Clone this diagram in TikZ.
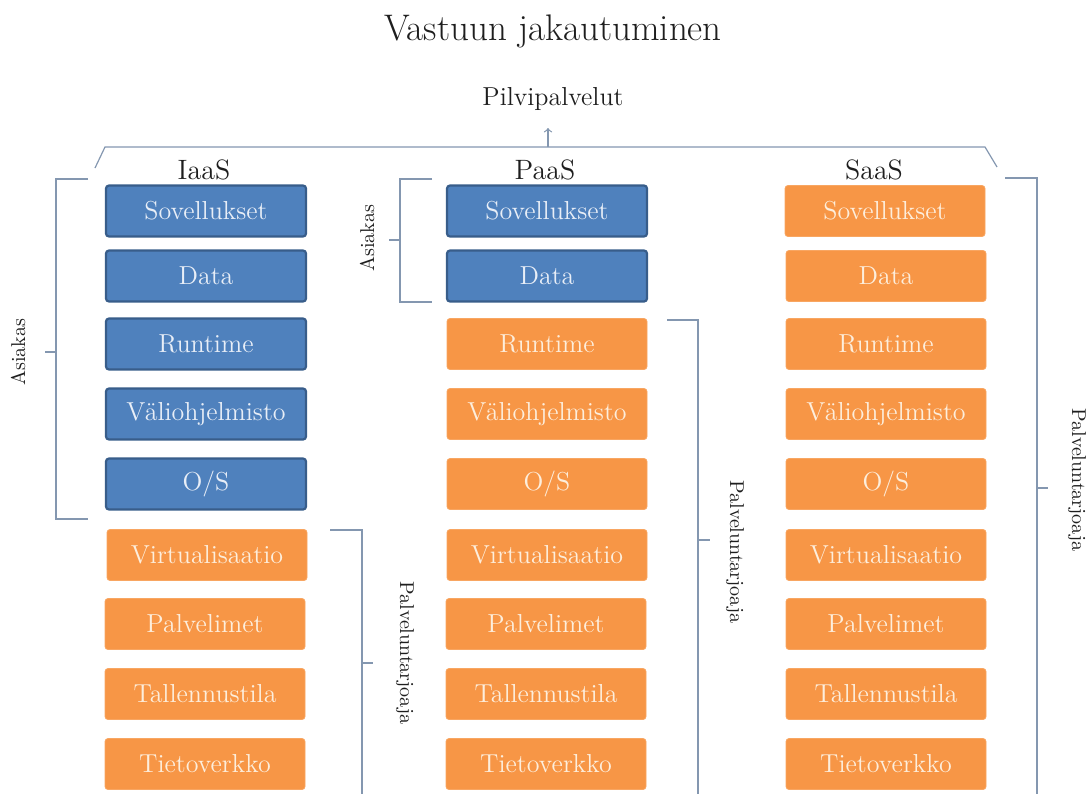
\documentclass[tikz,border=0pt]{standalone}
\usepackage{tikz}
\definecolor{boxblue}{HTML}{4F81BD}
\definecolor{boxblueline}{HTML}{385D8A}
\definecolor{boxorange}{HTML}{F79646}
\definecolor{bracketgray}{HTML}{8497B0}
\definecolor{bluetext}{HTML}{E8EEF7}
\definecolor{orangetext}{HTML}{FDEEDC}
\definecolor{inkgray}{HTML}{1E1E1E}
\tikzstyle{layer}=[rectangle, rounded corners=1.5pt, minimum width=100pt, minimum height=25.5pt, inner sep=0pt, font=\fontsize{13}{15}\selectfont]
\tikzstyle{client}=[layer, fill=boxblue, draw=boxblueline, line width=1.1pt, text=bluetext]
\tikzstyle{vendor}=[layer, fill=boxorange, draw=boxorange!85!white, line width=0.4pt, text=orangetext]
\tikzstyle{bracket}=[draw=bracketgray, line width=0.6pt]
\tikzstyle{side}=[text=inkgray, font=\fontsize{10}{12}\selectfont]
\tikzstyle{head}=[text=inkgray, font=\fontsize{14}{16}\selectfont]

\begin{document}
\begin{tikzpicture}[x=0.5pt, y=-0.5pt]
        \useasboundingbox (0, 0) rectangle (1090, 794);
        \node[text=inkgray, font=\fontsize{18.5}{22}\selectfont] (title) at (553, 31) {Vastuun jakautuminen};
        \node[text=inkgray, font=\fontsize{13}{15}\selectfont] (cloud) at (553, 99) {Pilvipalvelut};
        % top brace
        \coordinate (braceL) at (95, 168);
        \coordinate (braceLtop) at (105, 147);
        \coordinate (braceRtop) at (985, 147);
        \coordinate (braceR) at (997, 167);
        \coordinate (braceM) at (548, 147);
        \coordinate (cloudtip) at (548, 128);
        \draw[bracket] (braceL) -- (braceLtop) -- (braceRtop) -- (braceR);
        \draw[bracket, ->] (braceM) -- (cloudtip);
        \node[head] (iaas) at (204, 170) {IaaS};
        \node[head] (paas) at (545, 170) {PaaS};
        \node[head] (saas) at (874, 170) {SaaS};
        % IaaS
        \node[client] (I1) at (206, 211) {Sovellukset};
        \node[client] (I2) at (206, 276) {Data};
        \node[client] (I3) at (206, 344) {Runtime};
        \node[client] (I4) at (206, 414) {Väliohjelmisto};
        \node[client] (I5) at (206, 484) {O/S};
        \node[vendor] (I6) at (207, 555) {Virtualisaatio};
        \node[vendor] (I7) at (205, 624) {Palvelimet};
        \node[vendor] (I8) at (205, 694) {Tallennustila};
        \node[vendor] (I9) at (205, 764) {Tietoverkko};
        % PaaS
        \node[client] (P1) at (547, 211) {Sovellukset};
        \node[client] (P2) at (547, 276) {Data};
        \node[vendor] (P3) at (547, 344) {Runtime};
        \node[vendor] (P4) at (547, 414) {Väliohjelmisto};
        \node[vendor] (P5) at (547, 484) {O/S};
        \node[vendor] (P6) at (547, 555) {Virtualisaatio};
        \node[vendor] (P7) at (546, 624) {Palvelimet};
        \node[vendor] (P8) at (546, 694) {Tallennustila};
        \node[vendor] (P9) at (546, 764) {Tietoverkko};
        % SaaS
        \node[vendor] (S1) at (885, 211) {Sovellukset};
        \node[vendor] (S2) at (886, 276) {Data};
        \node[vendor] (S3) at (886, 344) {Runtime};
        \node[vendor] (S4) at (886, 414) {Väliohjelmisto};
        \node[vendor] (S5) at (886, 484) {O/S};
        \node[vendor] (S6) at (886, 555) {Virtualisaatio};
        \node[vendor] (S7) at (886, 624) {Palvelimet};
        \node[vendor] (S8) at (886, 694) {Tallennustila};
        \node[vendor] (S9) at (886, 764) {Tietoverkko};
        % IaaS brackets
        \coordinate (IAtop) at (56, 179);
        \coordinate (IAbot) at (56, 519);
        \coordinate (IAmid) at (56, 352);
        \draw[bracket] (88, 179) -- (IAtop) -- (IAbot) -- (88, 519);
        \draw[bracket] (IAmid) -- +(-11, 0);
        \node[side, rotate=90] (iaasclient) at (18, 352) {Asiakas};
        \coordinate (IVtop) at (362, 530);
        \coordinate (IVbot) at (362, 794);
        \coordinate (IVmid) at (362, 663);
        \draw[bracket] (330, 530) -- (IVtop) -- (IVbot);
        \draw[bracket] (IVmid) -- +(11, 0);
        \node[side, rotate=-90] (iaasvendor) at (405, 653) {Palveluntarjoaja};
        % PaaS brackets
        \coordinate (PAtop) at (400, 179);
        \coordinate (PAbot) at (400, 302);
        \coordinate (PAmid) at (400, 240);
        \draw[bracket] (432, 179) -- (PAtop) -- (PAbot) -- (432, 302);
        \draw[bracket] (PAmid) -- +(-11, 0);
        \node[side, rotate=90] (paasclient) at (367, 238) {Asiakas};
        \coordinate (PVtop) at (698, 320);
        \coordinate (PVbot) at (698, 794);
        \coordinate (PVmid) at (698, 540);
        \draw[bracket] (667, 320) -- (PVtop) -- (PVbot);
        \draw[bracket] (PVmid) -- +(12, 0);
        \node[side, rotate=-90] (paasvendor) at (735, 552) {Palveluntarjoaja};
        % SaaS bracket
        \coordinate (SVtop) at (1037, 178);
        \coordinate (SVbot) at (1037, 794);
        \coordinate (SVmid) at (1037, 488);
        \draw[bracket] (1005, 178) -- (SVtop) -- (SVbot);
        \draw[bracket] (SVmid) -- +(11, 0);
        \node[side, rotate=-90] (saasvendor) at (1077, 480) {Palveluntarjoaja};
    \end{tikzpicture}
\end{document}
